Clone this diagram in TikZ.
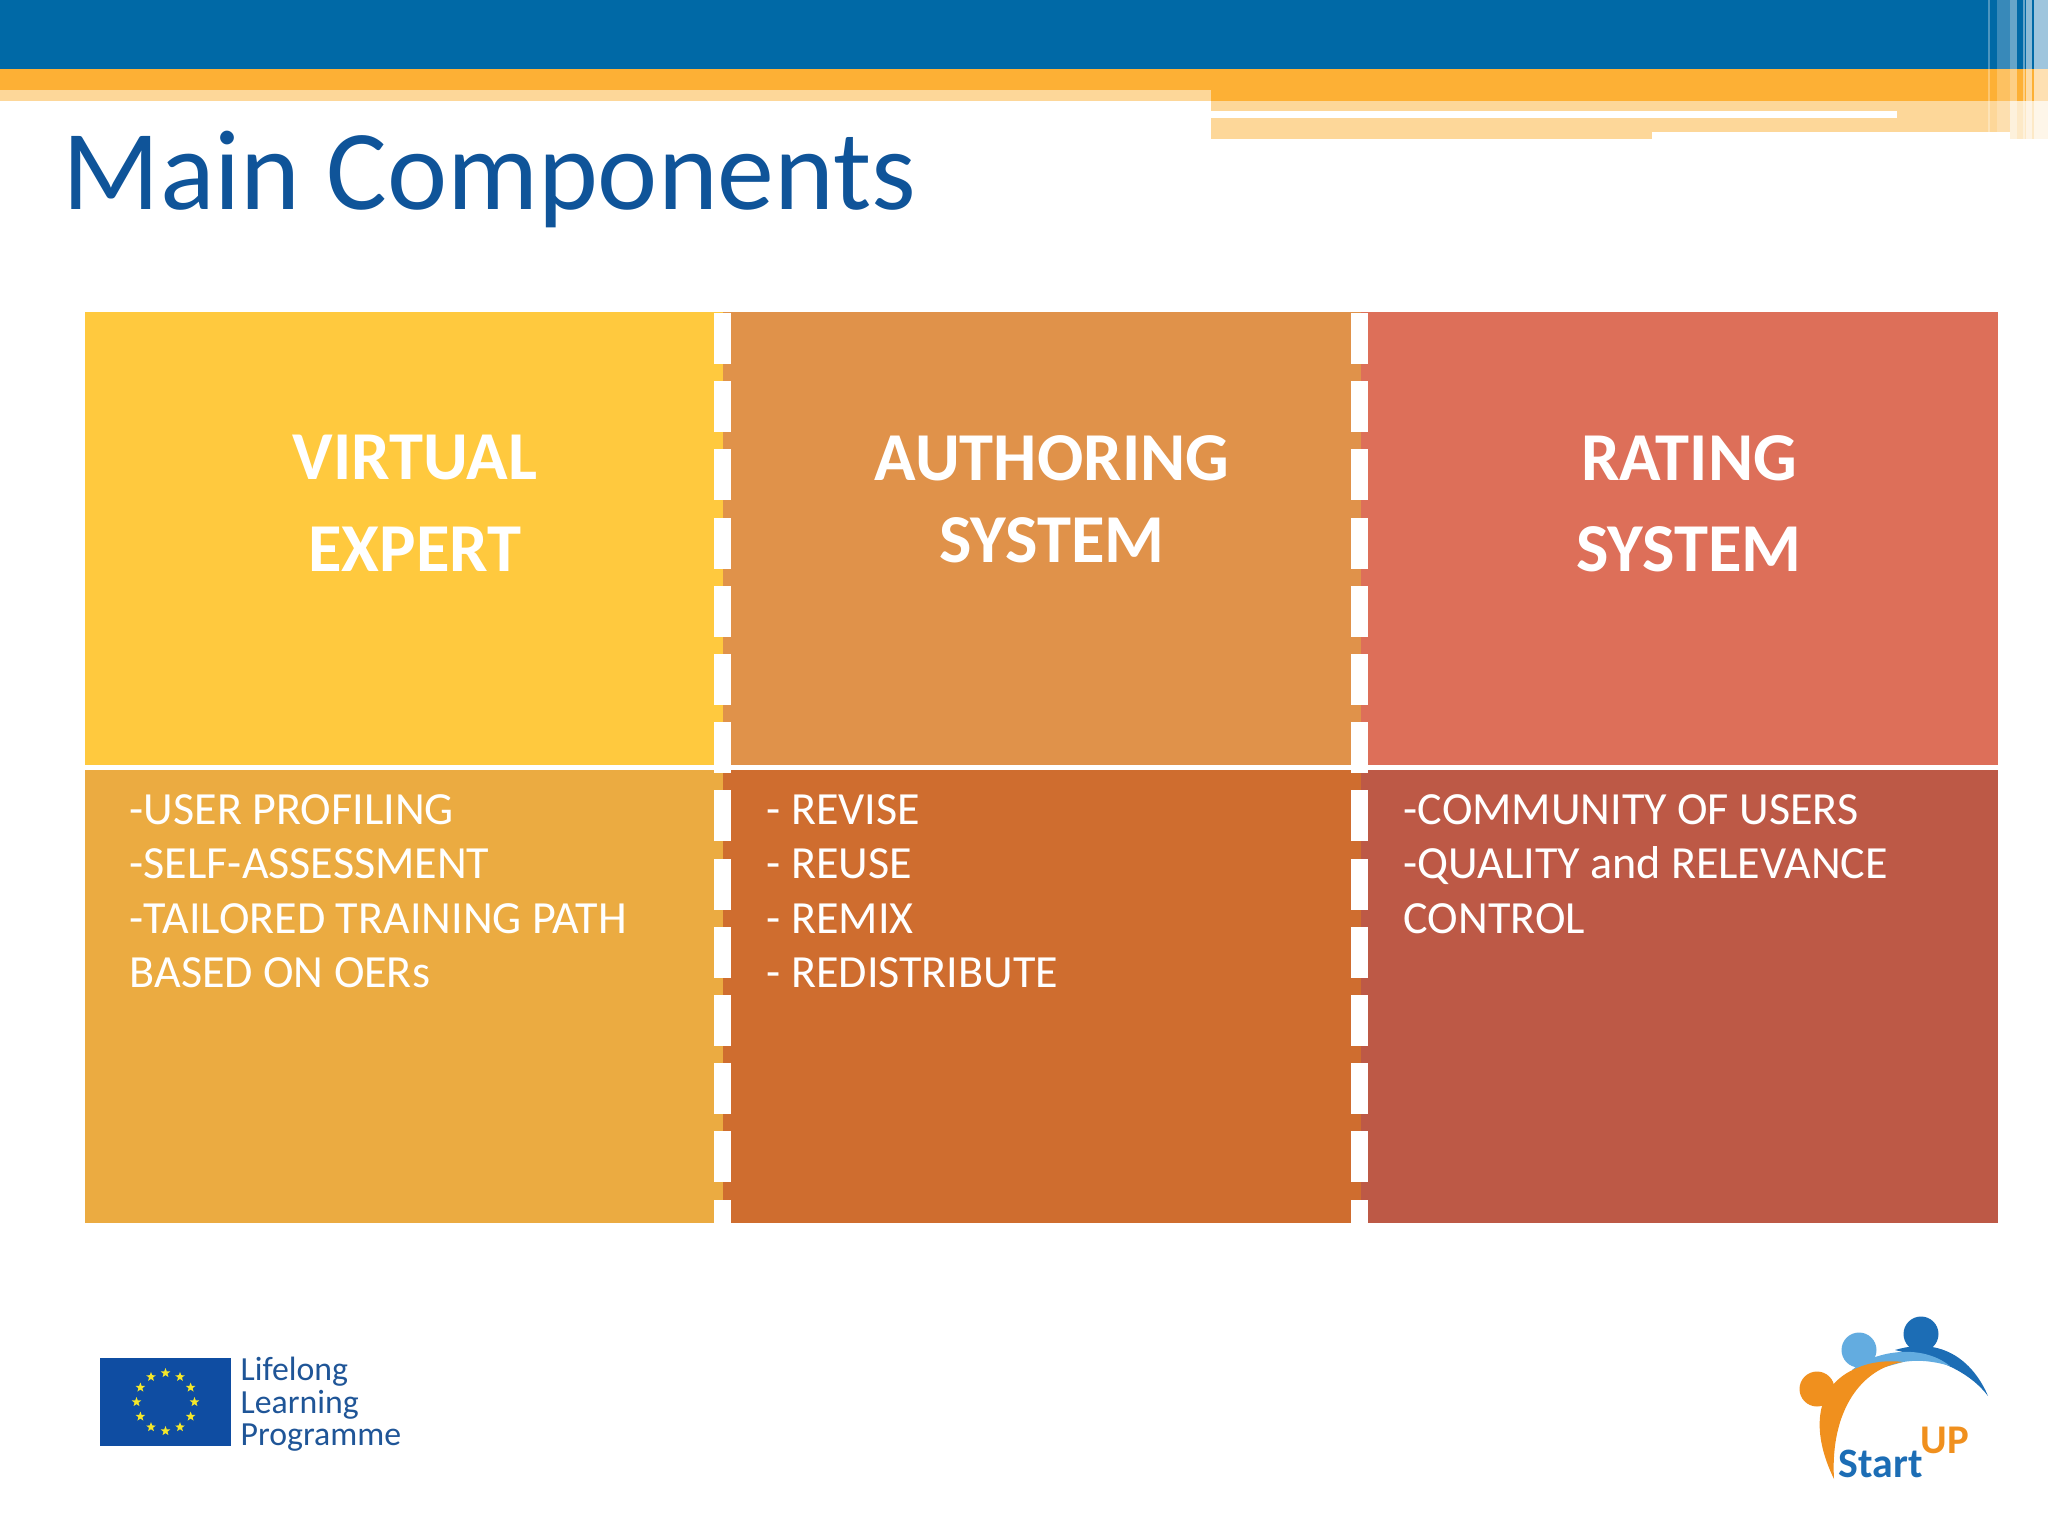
\documentclass[tikz,border=0pt]{standalone}
\usepackage{fontspec}
\setmainfont{Carlito}
\usetikzlibrary{positioning,calc}
\usetikzlibrary{shapes.geometric}
\definecolor{barblue}{HTML}{0069A6}
\definecolor{barorange}{HTML}{FDB035}
\definecolor{barpale}{HTML}{FDD799}
\definecolor{titleblue}{HTML}{0F5499}
\definecolor{veTop}{HTML}{FFC93E}
\definecolor{veBot}{HTML}{EBAB41}
\definecolor{asTop}{HTML}{E0924A}
\definecolor{asBot}{HTML}{CF6D2F}
\definecolor{rsTop}{HTML}{DD6F59}
\definecolor{rsBot}{HTML}{BD5946}
\definecolor{euBlue}{HTML}{0F4DA2}
\definecolor{euYellow}{HTML}{F5E82A}
\definecolor{euText}{HTML}{1F5597}
\definecolor{logoOrange}{HTML}{F0901E}
\definecolor{logoLight}{HTML}{63ACE0}
\definecolor{logoDark}{HTML}{1C6DB5}
\begin{document}
\begin{tikzpicture}[x=0.01cm,y=-0.01cm,
	panel/.style={minimum width=6.375cm,minimum height=4.53cm,inner sep=0,outer sep=0},
	heading/.style={text=white,font=\fontsize{19.5}{19.5}\selectfont\bfseries,inner sep=0},
	itemlist/.style={text=white,font=\fontsize{13.1}{15.45}\selectfont,align=flush left,anchor=north west,inner sep=0,text width=5.4cm},
	gapdash/.style={fill=white,minimum width=0.17cm,minimum height=0.51cm,inner sep=0,outer sep=0},
	eustar/.style={star,star points=5,star point ratio=2.4,fill=euYellow,minimum size=0.1cm,inner sep=0},
	euline/.style={text=euText,font=\fontsize{9.6}{9.6}\selectfont,anchor=west,inner sep=0}]
	\useasboundingbox (0,0) rectangle (2048,1536);

	% top bars
	\fill[barblue] (0,0) rectangle (2048,69);
	\fill[barorange] (0,69) rectangle (2048,101);
	\fill[barpale] (0,90) rectangle (1211,101);
	\fill[barpale] (1211,101) rectangle (2010,132);
	\fill[barpale] (1211,118) rectangle (1652,139);
	\fill[white] (1211,111) rectangle (1897,118);
	\fill[barpale] (2010,101) rectangle (2048,139);
	\foreach \xa/\xb/\op in {1988/1990/.3,1997/2010/.22,2010/2017/.4,2023/2025/.4,2026/2032/.55,2034/2048/.62}
		\fill[white,opacity=\op] (\xa,0) rectangle (\xb,139);
	\fill[white,opacity=.45] (2010,101) rectangle (2048,139);

	\node[text=titleblue,font=\fontsize{32.4}{32.4}\selectfont,anchor=base west,inner sep=0] (title) at (62,209) {Main Components};

	% panels
	\node[panel,fill=veTop] (veTop) at (403.75,538.5) {};
	\node[panel,fill=asTop] (asTop) [right=0cm of veTop] {};
	\node[panel,fill=rsTop] (rsTop) [right=0cm of asTop] {};
	\node[panel,fill=veBot] (veBot) [below=0.05cm of veTop] {};
	\node[panel,fill=asBot] (asBot) [below=0.05cm of asTop] {};
	\node[panel,fill=rsBot] (rsBot) [below=0.05cm of rsTop] {};

	\node[heading] (veA) at (415,458) {VIRTUAL};
	\node[heading] (veB) at (415,549) {EXPERT};
	\node[heading] (asA) at (1052,458) {AUTHORING};
	\node[heading] (asB) at (1052,540) {SYSTEM};
	\node[heading] (rsA) at (1689,458) {RATING};
	\node[heading] (rsB) at (1689,549) {SYSTEM};

	\node[itemlist] (veList) at (129,794) {-USER PROFILING\\-SELF-ASSESSMENT\\-TAILORED TRAINING PATH\\BASED ON OERs};
	\node[itemlist] (asList) at (766,794) {- REVISE\\- REUSE\\- REMIX\\- REDISTRIBUTE};
	\node[itemlist] (rsList) at (1403,794) {-COMMUNITY OF USERS\\-QUALITY and RELEVANCE\\CONTROL};

	% white dashes between the panels
	\foreach \cx in {722.5,1359.5}{
		\foreach \k in {0,...,12}
			\node[gapdash] (dash\k) at (\cx,{338.5+68.2*\k}) {};
		\fill[white] ({\cx-8.5},1200) rectangle ({\cx+8.5},1223);
	}

	% flag
	\node[fill=euBlue,minimum width=1.31cm,minimum height=0.88cm,inner sep=0] (flag) at (165.5,1402) {};
	\foreach \a in {0,30,...,330}
		\node[eustar] (star\a) at ($(flag.center)+(\a:29)$) {};
	\node[euline] (llA) at (240,1372) {Lifelong};
	\node[euline] (llB) at (240,1405) {Learning};
	\node[euline] (llC) at (240,1438) {Programme};

	% logo
	\fill[logoOrange] (1817,1389) circle (17.5);
	\fill[logoLight] (1859,1350) circle (17.5);
	\fill[logoDark] (1921,1334) circle (17.5);
	\fill[logoDark] (1895,1350) .. controls (1945,1335) and (1975,1365) .. (1988,1396)
		.. controls (1972,1375) and (1945,1360) .. (1903,1352) -- cycle;
	\fill[logoLight] (1852,1370) .. controls (1872,1352) and (1920,1342) .. (1950,1366)
		.. controls (1930,1360) and (1915,1360) .. (1903,1362) -- (1860,1374) -- cycle;
	\fill[logoOrange] (1834,1479) .. controls (1810,1430) and (1815,1385) .. (1857,1368)
		.. controls (1870,1362) and (1888,1360) .. (1903,1362)
		.. controls (1862,1368) and (1830,1410) .. (1834,1479) -- cycle;
	\node[text=logoDark,font=\fontsize{11.9}{11.9}\selectfont\bfseries,anchor=base west,inner sep=0] (start) at (1838,1477) {Start};
	\node[text=logoOrange,font=\fontsize{11.6}{11.6}\selectfont\bfseries,anchor=base west,inner sep=0] (up) at (1920,1453) {UP};
\end{tikzpicture}
\end{document}
